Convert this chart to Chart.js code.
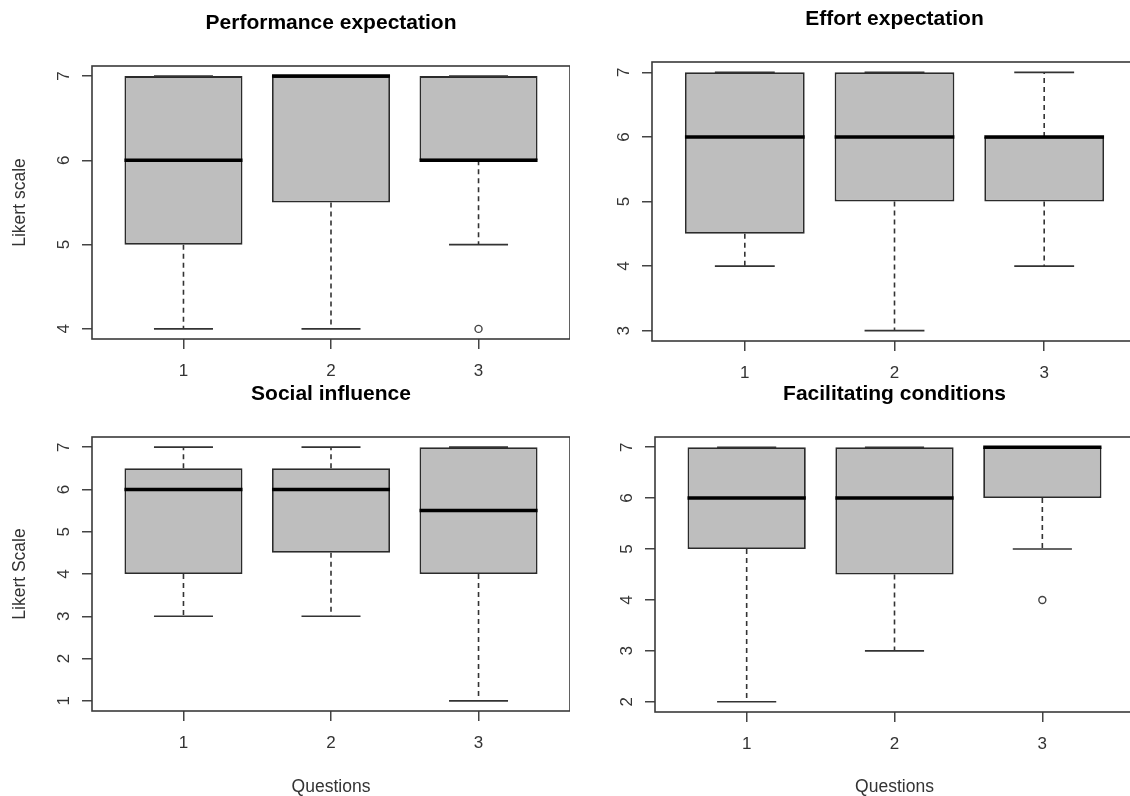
<!DOCTYPE html>
<html>
<head>
<meta charset="utf-8">
<title>Likert scale box plots</title>
<script src="https://cdn.jsdelivr.net/npm/chart.js@4.4.1/dist/chart.umd.min.js"></script>
<style>
  html, body { margin: 0; padding: 0; background: #fff; overflow: hidden; }
  body { width: 1130px; height: 796px; position: relative; }
  .panel { position: absolute; }
  #pe { left: 0; top: 0; width: 570px; height: 384px; }
  #ee { left: 560px; top: -4px; width: 577px; height: 390px; }
  #si { left: 0; top: 371px; width: 570px; height: 427px; }
  #fc { left: 563px; top: 371px; width: 571px; height: 427px; }
</style>
</head>
<body>
<div class="panel" id="pe"><canvas></canvas></div>
<div class="panel" id="ee"><canvas></canvas></div>
<div class="panel" id="si"><canvas></canvas></div>
<div class="panel" id="fc"><canvas></canvas></div>
<script>
const questions = [1, 2, 3];

// Performance expectation
const peLow = [4, 4, 5];
const peQ1 = [5, 5.5, 6];
const peMedian = [6, 7, 6];
const peQ3 = [7, 7, 7];
const peHigh = [7, 7, 7];
const peOutX = [3];
const peOutY = [4];
const peTicks = [4, 5, 6, 7];

// Effort expectation
const eeLow = [4, 3, 4];
const eeQ1 = [4.5, 5, 5];
const eeMedian = [6, 6, 6];
const eeQ3 = [7, 7, 6];
const eeHigh = [7, 7, 7];
const eeOutX = [];
const eeOutY = [];
const eeTicks = [3, 4, 5, 6, 7];

// Social influence
const siLow = [3, 3, 1];
const siQ1 = [4, 4.5, 4];
const siMedian = [6, 6, 5.5];
const siQ3 = [6.5, 6.5, 7];
const siHigh = [7, 7, 7];
const siOutX = [];
const siOutY = [];
const siTicks = [1, 2, 3, 4, 5, 6, 7];

// Facilitating conditions
const fcLow = [2, 3, 5];
const fcQ1 = [5, 4.5, 6];
const fcMedian = [6, 6, 7];
const fcQ3 = [7, 7, 7];
const fcHigh = [7, 7, 7];
const fcOutX = [3];
const fcOutY = [4];
const fcTicks = [2, 3, 4, 5, 6, 7];

const FONT = "'Liberation Sans', Arial, sans-serif";
Chart.defaults.font.family = FONT;

const panels = [
  { id: 'pe', title: 'Performance expectation', yTitle: 'Likert scale', xTitle: '', xHeight: 45,
    low: peLow, q1: peQ1, med: peMedian, q3: peQ3, high: peHigh, outX: peOutX, outY: peOutY, ticks: peTicks },
  { id: 'ee', title: 'Effort expectation', yTitle: '', xTitle: '', xHeight: 45,
    low: eeLow, q1: eeQ1, med: eeMedian, q3: eeQ3, high: eeHigh, outX: eeOutX, outY: eeOutY, ticks: eeTicks },
  { id: 'si', title: 'Social influence', yTitle: 'Likert Scale', xTitle: 'Questions', xHeight: 87,
    low: siLow, q1: siQ1, med: siMedian, q3: siQ3, high: siHigh, outX: siOutX, outY: siOutY, ticks: siTicks },
  { id: 'fc', title: 'Facilitating conditions', yTitle: '', xTitle: 'Questions', xHeight: 86,
    low: fcLow, q1: fcQ1, med: fcMedian, q3: fcQ3, high: fcHigh, outX: fcOutX, outY: fcOutY, ticks: fcTicks }
];

// whiskers, staples, medians and the plot frame, all placed through the chart scales
const boxExtras = {
  id: 'boxExtras',
  afterDatasetsDraw(chart, args, o) {
    const { ctx, chartArea: a, scales: { x, y } } = chart;
    ctx.save();
    questions.forEach((q, i) => {
      const cx = x.getPixelForValue(q);
      const half = x.getPixelForValue(q + 0.4) - cx;
      const cap = half / 2;
      const yLow = y.getPixelForValue(o.low[i]);
      const yHigh = y.getPixelForValue(o.high[i]);

      ctx.strokeStyle = '#333';
      ctx.lineWidth = 1.6;
      ctx.setLineDash([5, 4]);
      ctx.beginPath();
      ctx.moveTo(cx, y.getPixelForValue(o.q3[i]));
      ctx.lineTo(cx, yHigh);
      ctx.moveTo(cx, y.getPixelForValue(o.q1[i]));
      ctx.lineTo(cx, yLow);
      ctx.stroke();
      ctx.setLineDash([]);

      ctx.beginPath();
      ctx.moveTo(cx - cap, yHigh);
      ctx.lineTo(cx + cap, yHigh);
      ctx.moveTo(cx - cap, yLow);
      ctx.lineTo(cx + cap, yLow);
      ctx.stroke();

      const ym = y.getPixelForValue(o.med[i]);
      ctx.strokeStyle = '#000';
      ctx.lineWidth = 3.5;
      ctx.beginPath();
      ctx.moveTo(cx - half, ym);
      ctx.lineTo(cx + half, ym);
      ctx.stroke();
    });
    ctx.strokeStyle = '#3a3a3a';
    ctx.lineWidth = 1.6;
    ctx.strokeRect(a.left, a.top, a.width, a.height);
    ctx.restore();
  }
};

panels.forEach(makePanel);

function makePanel(p) {
  const all = [...p.low, ...p.high, ...p.outY];
  const lo = Math.min(...all);
  const hi = Math.max(...all);
  const pad = (hi - lo) * 0.04;
  const tickGrid = { display: true, drawOnChartArea: false, drawTicks: true, tickLength: 10, color: '#444', lineWidth: 1.5, offset: false };

  new Chart(document.querySelector(`#${p.id} canvas`), {
    type: 'bar',
    data: {
      datasets: [
        {
          data: questions.map((q, i) => ({ x: q, y: [p.q1[i], p.q3[i]] })),
          backgroundColor: '#bebebe',
          borderColor: '#2b2b2b',
          borderWidth: 1.8,
          borderSkipped: false,
          barPercentage: 0.8,
          categoryPercentage: 1
        },
        {
          type: 'scatter',
          data: p.outX.map((q, i) => ({ x: q, y: p.outY[i] })),
          pointStyle: 'circle',
          radius: 3.5,
          borderWidth: 1.4,
          borderColor: '#444',
          backgroundColor: 'rgba(0,0,0,0)'
        }
      ]
    },
    options: {
      animation: false,
      responsive: true,
      maintainAspectRatio: false,
      layout: { padding: 0, autoPadding: false },
      plugins: {
        legend: { display: false },
        tooltip: { enabled: false },
        title: {
          display: true,
          text: p.title,
          fullSize: false,
          color: '#000',
          font: { size: 21, weight: 'bold' },
          padding: { top: 10.9, bottom: 29.9 }
        },
        boxExtras: { low: p.low, q1: p.q1, med: p.med, q3: p.q3, high: p.high }
      },
      scales: {
        x: {
          type: 'linear',
          offset: false,
          min: 0.5 - 0.12,
          max: 3.5 + 0.12,
          afterBuildTicks: s => { s.ticks = questions.map(v => ({ value: v })); },
          afterFit: s => { s.height = p.xHeight; },
          ticks: { color: '#333', font: { size: 17 }, padding: 12 },
          grid: tickGrid,
          border: { display: false },
          title: { display: !!p.xTitle, text: p.xTitle, color: '#333', font: { size: 17.5 }, padding: { top: 0, bottom: 0 } }
        },
        y: {
          beginAtZero: false,
          min: lo - pad,
          max: hi + pad,
          afterBuildTicks: s => { s.ticks = p.ticks.map(v => ({ value: v })); },
          afterFit: s => { s.width = 92; },
          ticks: { color: '#333', font: { size: 17 }, padding: 13, minRotation: 90, maxRotation: 90, crossAlign: 'center' },
          grid: tickGrid,
          border: { display: false },
          title: { display: !!p.yTitle, text: p.yTitle, color: '#333', font: { size: 17.5 }, padding: { top: 9.5, bottom: 0 } }
        }
      }
    },
    plugins: [boxExtras]
  });
}
</script>
</body>
</html>
